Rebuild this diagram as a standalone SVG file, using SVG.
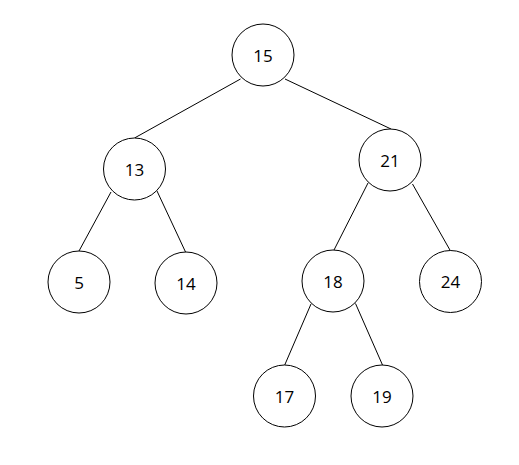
<svg xmlns="http://www.w3.org/2000/svg" width="519" height="465" viewBox="0 0 519 465">
<style>
.n circle{fill:#fff;stroke:#000;stroke-width:1}
.n text{font-family:"Open Sans","DejaVu Sans",sans-serif;font-size:17px;fill:#000;text-anchor:middle;dominant-baseline:central}
#edges line{stroke:#000;stroke-width:1}
</style>
<rect width="519" height="465" fill="#fff"/>
<g id="edges">
<line x1="240.5" y1="79" x2="134.5" y2="138"/>
<line x1="285" y1="79" x2="391" y2="129"/>
<line x1="111" y1="192" x2="79" y2="251"/>
<line x1="157" y1="191" x2="186" y2="253"/>
<line x1="368" y1="183" x2="334" y2="250"/>
<line x1="412.5" y1="184" x2="450.5" y2="251"/>
<line x1="311" y1="304" x2="284.5" y2="365.5"/>
<line x1="355.5" y1="303.5" x2="382.5" y2="365"/>
</g>
<g id="n15" class="n"><circle cx="263" cy="55" r="31"/><text x="263" y="55">15</text></g>
<g id="n13" class="n"><circle cx="134.5" cy="169" r="31"/><text x="134.5" y="169">13</text></g>
<g id="n21" class="n"><circle cx="390" cy="160" r="31"/><text x="390" y="160">21</text></g>
<g id="n5" class="n"><circle cx="79" cy="282" r="31"/><text x="79" y="282">5</text></g>
<g id="n14" class="n"><circle cx="186" cy="283" r="31"/><text x="186" y="283">14</text></g>
<g id="n18" class="n"><circle cx="333" cy="281" r="31"/><text x="333" y="281">18</text></g>
<g id="n24" class="n"><circle cx="450.5" cy="281.5" r="31"/><text x="450.5" y="281.5">24</text></g>
<g id="n17" class="n"><circle cx="284.5" cy="396" r="31"/><text x="284.5" y="396">17</text></g>
<g id="n19" class="n"><circle cx="382" cy="396" r="31"/><text x="382" y="396">19</text></g>
</svg>
